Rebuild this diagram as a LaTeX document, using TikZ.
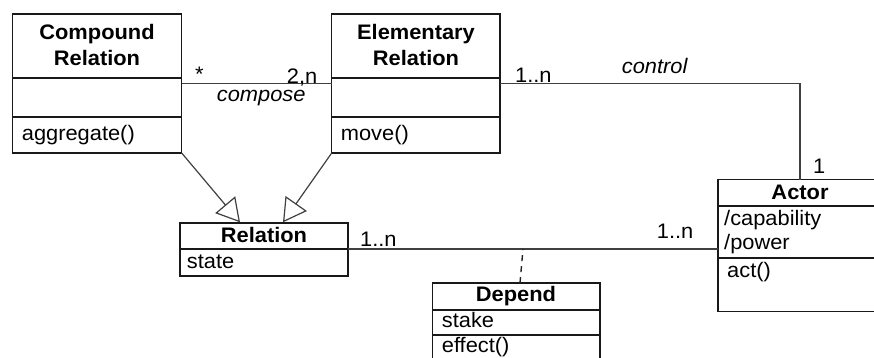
\documentclass[tikz,border=0pt]{standalone}
\usepackage{fontspec}
\setmainfont{Liberation Sans}[FakeStretch=1.04]
\usetikzlibrary{arrows.meta}
\begin{document}
\begin{tikzpicture}[x=1pt,y=-1pt,
  box/.style={draw=black!90, line width=1.3pt, anchor=north west, inner sep=0pt, outer sep=0pt},
  txt/.style={anchor=base west, inner sep=0pt, font=\fontsize{21}{25}\selectfont},
  ttl/.style={anchor=base, inner sep=0pt, font=\fontsize{21}{25}\selectfont\bfseries},
  lbl/.style={anchor=base west, inner sep=0pt, font=\fontsize{21}{25}\selectfont},
  ilbl/.style={anchor=base west, inner sep=0pt, font=\fontsize{21}{25}\selectfont\itshape},
  conn/.style={draw=black!75, line width=1.2pt},
  gen/.style={conn, -{Triangle[open, length=23pt, width=26pt, fill=white]}}]
\useasboundingbox (0,0) rectangle (874,357);
\clip (0,0) rectangle (874,357);
\fill[white] (0,0) rectangle (874,357);

% Compound Relation
\node[box, minimum width=169pt, minimum height=64pt] (crH) at (12.7,14) {};
\node[box, minimum width=169pt, minimum height=39pt] (crA) at (12.7,78) {};
\node[box, minimum width=169pt, minimum height=36pt] (crM) at (12.7,117) {};
\node[ttl] (crT1) at (97,39.5) {Compound};
\node[ttl] (crT2) at (97,65) {Relation};
\node[txt] (crM1) at (21.7,140) {aggregate()};

% Elementary Relation
\node[box, minimum width=168.3pt, minimum height=64pt] (erH) at (331.7,14) {};
\node[box, minimum width=168.3pt, minimum height=39pt] (erA) at (331.7,78) {};
\node[box, minimum width=168.3pt, minimum height=36pt] (erM) at (331.7,117) {};
\node[ttl] (erT1) at (416,39.5) {Elementary};
\node[ttl] (erT2) at (416,65) {Relation};
\node[txt] (erM1) at (340.7,140) {move()};

% Relation
\node[box, minimum width=168pt, minimum height=26pt] (relH) at (180,223) {};
\node[box, minimum width=168pt, minimum height=27pt] (relA) at (180,249) {};
\node[ttl] (relT) at (264,242.7) {Relation};
\node[txt] (relA1) at (186.7,268.3) {state};

% Actor
\node[box, minimum width=164pt, minimum height=26.5pt] (acH) at (718,179.5) {};
\node[box, minimum width=164pt, minimum height=52pt] (acA) at (718,206) {};
\node[box, minimum width=164pt, minimum height=53.5pt] (acM) at (718,258) {};
\node[ttl] (acT) at (800,199.3) {Actor};
\node[txt] (acA1) at (724,225) {/capability};
\node[txt] (acA2) at (724,249) {/power};
\node[txt] (acM1) at (727,277.7) {act()};

% Depend
\node[box, minimum width=167.5pt, minimum height=27pt] (dpH) at (432.5,283) {};
\node[box, minimum width=167.5pt, minimum height=25pt] (dpA) at (432.5,310) {};
\node[box, minimum width=167.5pt, minimum height=35pt] (dpM) at (432.5,335) {};
\node[ttl] (dpT) at (516,301.7) {Depend};
\node[txt] (dpA1) at (441.7,327) {stake};
\node[txt] (dpM1) at (441.7,352) {effect()};

% connectors
\coordinate (assocY) at (0,83.3);
\draw[conn] (crA.east |- assocY) -- (erA.west |- assocY);
\draw[conn] (erA.east |- assocY) -| (acH.north);
\draw[conn] (relH.south east) -- (acA.west |- relH.south east);
\coordinate (dtop) at (523,249);
\coordinate (dbot) at (520,283);
\draw[conn, draw=black!85, line width=1.4pt, dash pattern=on 6pt off 5pt] (dbot) -- (dtop);
\coordinate (tipL) at (240,222.3);
\coordinate (tipR) at (283,222.3);
\draw[gen] (crM.south east) -- (tipL);
\draw[gen] (erM.south west) -- (tipR);

% labels
\node[lbl] (star) at (195,81) {*};
\node[lbl] (l2n) at (286.7,83) {2,n};
\node[ilbl] (lcomp) at (216.7,101) {compose};
\node[lbl] (l1n) at (515,82) {1..n};
\node[ilbl] (lctrl) at (621.7,73) {control};
\node[lbl] (l1) at (813,173) {1};
\node[lbl] (lr1n) at (360,246.7) {1..n};
\node[lbl] (la1n) at (656.7,238) {1..n};
\end{tikzpicture}
\end{document}
